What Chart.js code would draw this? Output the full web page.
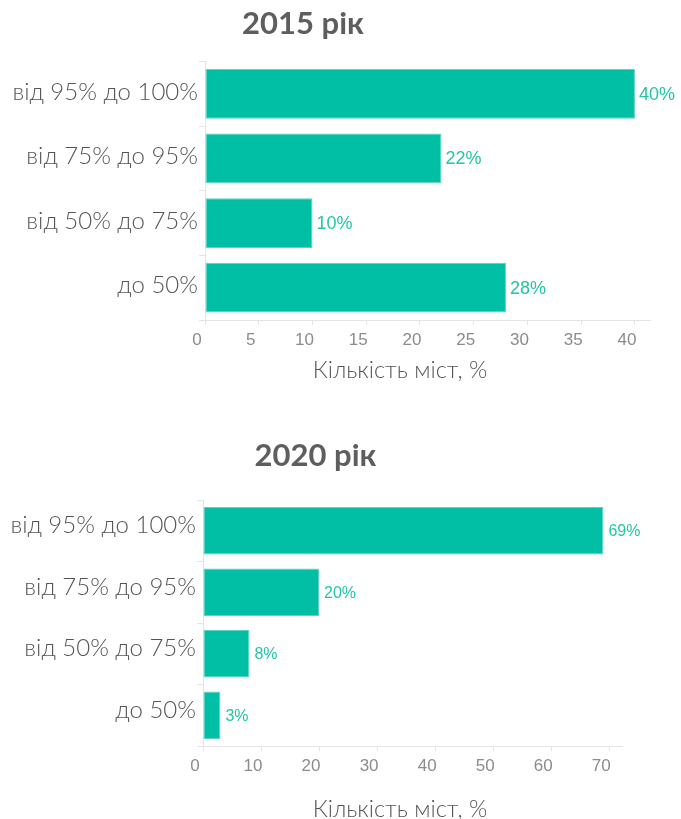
<!DOCTYPE html>
<html lang="uk">
<head>
<meta charset="utf-8">
<title>Кількість міст</title>
<script src="https://cdn.jsdelivr.net/npm/chart.js@4.4.1/dist/chart.umd.min.js"></script>
<style>
  html, body { margin: 0; padding: 0; background: #fff; }
  #wrap { position: relative; width: 681px; height: 819px; overflow: hidden; }
  .box { position: absolute; left: 0; width: 681px; }
  .ttl { position: absolute; left: 0; text-align: center; font: bold 31px Lato, sans-serif; line-height: 31px; color: #5e5e5e; white-space: nowrap; }
  .cap { position: absolute; width: 300px; text-align: center; font: 300 23.5px Lato, sans-serif; line-height: 22px; color: #555; white-space: nowrap; }
</style>
</head>
<body>
<div id="wrap">
  <div class="box" style="top:0;height:400px"><canvas id="chart2015"></canvas></div>
  <div class="box" style="top:400px;height:419px"><canvas id="chart2020"></canvas></div>
  <div class="ttl" style="top:7px;width:606px">2015 рік</div>
  <div class="ttl" style="top:439px;width:631px">2020 рік</div>
  <div class="cap" style="top:358px;left:250px">Кількість міст, %</div>
  <div class="cap" style="top:797px;left:250px">Кількість міст, %</div>
</div>
<script>
const categories = ["від 95% до 100%", "від 75% до 95%", "від 50% до 75%", "до 50%"];
const values2015 = [40, 22, 10, 28];
const values2020 = [69, 20, 8, 3];
const xStep2015 = 5;
const xStep2020 = 10;

const BAR = "#00bfa5";
const LINE = "#e4e4e4";

// percent label at the end of each bar
const valueLabels = {
  id: "valueLabels",
  afterDatasetsDraw(chart, args, opts) {
    const ctx = chart.ctx;
    const ds = chart.data.datasets[0];
    ctx.save();
    ctx.font = opts.font;
    ctx.fillStyle = opts.color;
    ctx.textAlign = "left";
    ctx.textBaseline = "middle";
    chart.getDatasetMeta(0).data.forEach((bar, i) => {
      ctx.fillText(ds.data[i] + "%", bar.x + opts.gap, bar.y + 1);
    });
    ctx.restore();
  }
};

function makeChart(id, values, opt) {
  return new Chart(document.getElementById(id), {
    type: "bar",
    data: {
      labels: categories,
      datasets: [{
        data: values,
        backgroundColor: BAR,
        borderColor: "#5ed3bf",
        borderWidth: 1,
        borderSkipped: false,
        categoryPercentage: 1,
        barPercentage: 0.77
      }]
    },
    options: {
      indexAxis: "y",
      responsive: true,
      maintainAspectRatio: false,
      animation: false,
      layout: { padding: opt.padding },
      plugins: {
        legend: { display: false },
        tooltip: { enabled: false },
        valueLabels: { font: opt.labelFont, color: "#22c6a7", gap: opt.gap }
      },
      scales: {
        x: {
          min: 0,
          max: opt.max,
          afterFit: s => { s.height = 30; },
          ticks: {
            stepSize: opt.step,
            includeBounds: false,
            color: "#8c8c8c",
            font: { family: "'Liberation Sans', Arial, sans-serif", size: 17 },
            padding: 5,
            labelOffset: -8,
            maxRotation: 0
          },
          grid: { drawOnChartArea: false, tickLength: 5, color: LINE },
          border: { color: LINE }
        },
        y: {
          afterFit: s => { s.width = opt.left; },
          ticks: {
            color: "#555",
            font: { family: "Lato, sans-serif", size: 24, weight: 300 },
            padding: 1,
            labelOffset: opt.yShift
          },
          grid: { drawOnChartArea: false, tickLength: 6, color: LINE },
          border: { color: LINE }
        }
      }
    },
    plugins: [valueLabels]
  });
}

makeChart("chart2015", values2015, {
  max: 41.4, step: xStep2015, left: 205, gap: 4, yShift: -2,
  padding: { top: 61.5, right: 31, bottom: 50, left: 0 },
  labelFont: "18px 'Liberation Sans', Arial, sans-serif"
});

makeChart("chart2020", values2020, {
  max: 72.2, step: xStep2020, left: 203, gap: 5, yShift: -5,
  padding: { top: 100, right: 59, bottom: 43, left: 0 },
  labelFont: "16px 'Liberation Sans', Arial, sans-serif"
});
</script>
</body>
</html>
